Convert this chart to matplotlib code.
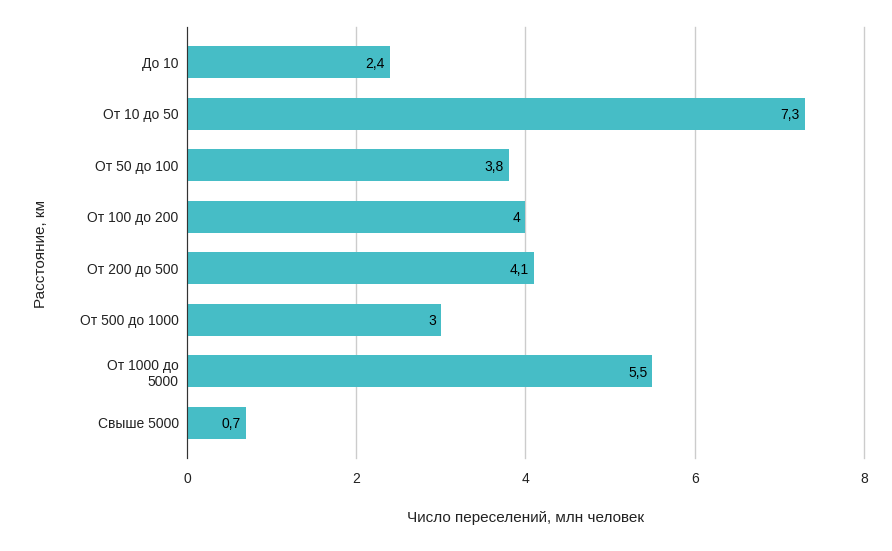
import matplotlib
matplotlib.use("Agg")
import matplotlib.pyplot as plt

categories = ["До 10", "От 10 до 50", "От 50 до 100", "От 100 до 200",
              "От 200 до 500", "От 500 до 1000", "От 1000 до\n5000", "Свыше 5000"]
values = [2.4, 7.3, 3.8, 4.0, 4.1, 3.0, 5.5, 0.7]
value_labels = ["2,4", "7,3", "3,8", "4", "4,1", "3", "5,5", "0,7"]
xticks = [0, 2, 4, 6, 8]

plt.rcParams['font.family'] = ['Liberation Sans', 'DejaVu Sans']

fig = plt.figure(figsize=(8.92, 5.51), dpi=100)
ax = fig.add_axes([0.2096, 0.1688, 0.759, 0.782])

pos = list(range(len(categories)))
ax.barh(pos, values, height=0.62, color="#46BDC6", zorder=3)
for p, v, lab in zip(pos, values, value_labels):
    ax.text(v - 0.06, p, lab, ha="right", va="center_baseline", fontsize=10, color="#000000", zorder=4)

ax.set_ylim(7.68, -0.68)
ax.set_xlim(0, 8)
ax.set_yticks(pos)
ax.set_yticklabels(categories, fontsize=10, color="#222222")
ax.set_xticks(xticks)
ax.set_xticklabels([str(x) for x in xticks], fontsize=10, color="#222222")
ax.tick_params(axis="both", length=0)
ax.tick_params(axis="y", pad=6)
ax.tick_params(axis="x", pad=10)
ax.grid(axis="x", color="#cccccc", linewidth=1, zorder=0)
for gl in ax.get_xgridlines():
    gl.set_clip_on(False)

for s in ["top", "right", "bottom"]:
    ax.spines[s].set_visible(False)
ax.spines["left"].set_color("#333333")
ax.spines["left"].set_zorder(5)

ax.set_xlabel("Число переселений, млн человек", fontsize=11, color="#222222", labelpad=18)
ax.set_ylabel("Расстояние, км", fontsize=11, color="#222222")
ax.yaxis.set_label_coords(-0.205, 0.473)

fig.savefig("out.png", dpi=100)
